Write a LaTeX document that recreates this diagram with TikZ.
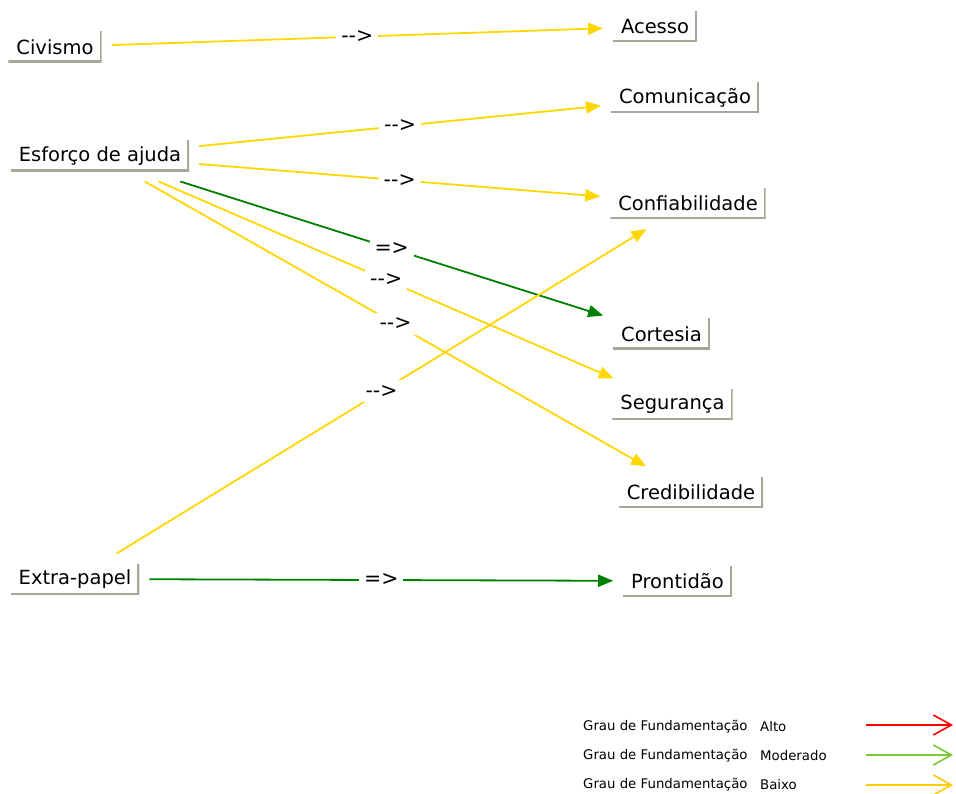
\documentclass[tikz,border=0pt]{standalone}
\usepackage{fontspec}
\setmainfont{DejaVu Sans}
\usetikzlibrary{arrows.meta}
\definecolor{boxgray}{RGB}{168,166,152}
\definecolor{baixo}{RGB}{255,215,0}
\definecolor{forte}{RGB}{0,128,0}
\definecolor{legalto}{RGB}{255,0,0}
\definecolor{legmod}{RGB}{122,200,56}
\definecolor{legbaixo}{RGB}{255,204,0}

\begin{document}
\begin{tikzpicture}[x=1pt,y=-1pt]
    \tikzstyle{every node}=[font=\fontsize{19.5}{23}\selectfont]
    \tikzstyle{construto}=[fill=white,minimum height=31pt,inner xsep=8pt,outer sep=10pt,
        path picture={\draw[boxgray,line width=4pt]
            (path picture bounding box.north east) -- (path picture bounding box.south east)
            -- (path picture bounding box.south west);}]
    \tikzstyle{rotulo}=[fill=white,inner sep=5pt,midway,font=\fontsize{20.5}{24}\selectfont]
    \tikzstyle{fraco}=[draw=baixo,line width=1.8pt,-{Triangle[length=15pt,width=12pt]}]
    \tikzstyle{medio}=[draw=forte,line width=1.8pt,-{Triangle[length=15pt,width=12pt]}]
    \tikzstyle{legenda}=[font=\fontsize{13.3}{16}\selectfont,anchor=west,inner sep=0pt]
    \tikzstyle{seta legenda}=[line width=1.6pt,-{Straight Barb[length=18pt,width=20pt]}]
    \useasboundingbox (0,0) rectangle (956,794);
    %% Left column
    \node at (55,47) [construto] (civ) {Civismo};
    \node at (100,156) [construto] (esf) {Esforço de ajuda};
    \node at (75,579) [construto] (ext) {Extra-papel};
    %% Right column
    \node at (655,26.5) [construto] (ace) {Acesso};
    \node at (685,97.5) [construto] (com) {Comunicação};
    \node at (688,203.5) [construto] (conf) {Confiabilidade};
    \node at (661.5,334) [construto] (cort) {Cortesia};
    \node at (672.5,404) [construto] (seg) {Segurança};
    \node at (691,492) [construto] (cred) {Credibilidade};
    \node at (677.5,581) [construto] (pront) {Prontidão};

    \path
    (civ) edge [fraco] node [rotulo] {-{}->} (ace)
    (esf) edge [fraco] node [rotulo] {-{}->} (com)
    (esf) edge [fraco] node [rotulo] {-{}->} (conf)
    (esf) edge [medio] node [rotulo] {=>} (cort)
    (esf) edge [fraco] node [rotulo] {-{}->} (seg)
    (esf) edge [fraco] node [rotulo] {-{}->} (cred)
    (ext) edge [fraco] node [rotulo] {-{}->} (conf)
    (ext) edge [medio] node [rotulo] {=>} (pront);

    %% Legend
    \node at (583,727) [legenda] (leg1) {Grau de Fundamentação};
    \node at (760,727) [legenda] (leg1v) {Alto};
    \node at (583,756) [legenda] (leg2) {Grau de Fundamentação};
    \node at (760,756) [legenda] (leg2v) {Moderado};
    \node at (583,785) [legenda] (leg3) {Grau de Fundamentação};
    \node at (760,785) [legenda] (leg3v) {Baixo};
    \coordinate (a1) at (866,725); \coordinate (b1) at (953,725);
    \coordinate (a2) at (866,755); \coordinate (b2) at (953,755);
    \coordinate (a3) at (866,785); \coordinate (b3) at (953,785);
    \draw[seta legenda,legalto] (a1) -- (b1);
    \draw[seta legenda,legmod] (a2) -- (b2);
    \draw[seta legenda,legbaixo] (a3) -- (b3);
\end{tikzpicture}
\end{document}
